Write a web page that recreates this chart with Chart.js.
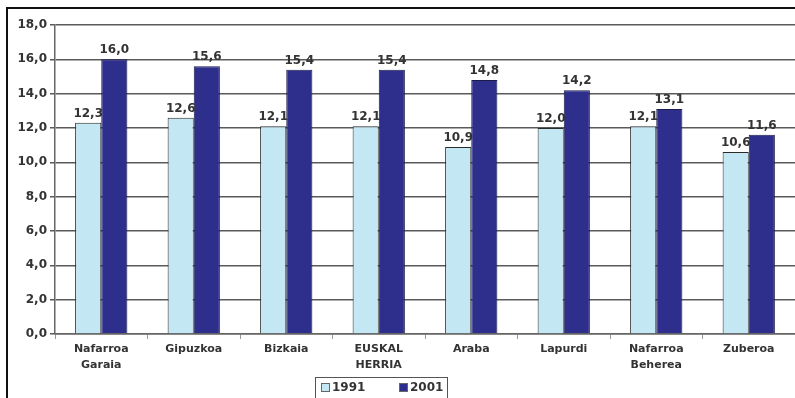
<!DOCTYPE html>
<html>
<head>
<meta charset="utf-8">
<script src="https://cdn.jsdelivr.net/npm/chart.js@4/dist/chart.umd.min.js"></script>
<style>
  html, body { margin: 0; padding: 0; background: #fff; overflow: hidden; }
  #frame { position: absolute; left: 6px; top: 7px; width: 900px; height: 500px;
           border-top: 2px solid #111; border-left: 2px solid #111; }
  #wrap { position: absolute; left: 0; top: 0; width: 795px; height: 398px; }
</style>
</head>
<body>
<div id="frame"></div>
<div id="wrap"><canvas id="chart"></canvas></div>
<script>
var labels = [
  ['Nafarroa', 'Garaia'], 'Gipuzkoa', 'Bizkaia', ['EUSKAL', 'HERRIA'],
  'Araba', 'Lapurdi', ['Nafarroa', 'Beherea'], 'Zuberoa'
];
var values1991 = [12.3, 12.6, 12.1, 12.1, 10.9, 12.0, 12.1, 10.6];
var values2001 = [16.0, 15.6, 15.4, 15.4, 14.8, 14.2, 13.1, 11.6];
var seriesNames = ['1991', '2001'];

var textColor = '#333';
var font = "'DejaVu Sans', Verdana, sans-serif";

function fmt(v) { return v.toFixed(1).replace('.', ','); }

// values above each bar
var barLabels = {
  id: 'barLabels',
  afterDatasetsDraw: function(chart) {
    var c = chart.ctx;
    c.save();
    c.font = 'bold 12px ' + font;
    c.fillStyle = textColor;
    c.textAlign = 'center';
    c.textBaseline = 'alphabetic';
    chart.data.datasets.forEach(function(ds, i) {
      chart.getDatasetMeta(i).data.forEach(function(bar, j) {
        c.fillText(fmt(ds.data[j]), bar.x, bar.y - 6);
      });
    });
    c.restore();
  }
};

// boxed legend under the axis, like the original
var boxLegend = {
  id: 'boxLegend',
  afterDraw: function(chart) {
    var c = chart.ctx;
    var x = 315, y = 377, w = 132, h = 22;
    c.save();
    c.fillStyle = '#fff';
    c.fillRect(x, y, w, h);
    c.strokeStyle = '#555';
    c.lineWidth = 1;
    c.strokeRect(x + 0.5, y + 0.5, w, h);
    c.font = 'bold 12px ' + font;
    c.textBaseline = 'middle';
    c.textAlign = 'left';
    var offs = [6, 84];
    chart.data.datasets.forEach(function(ds, i) {
      var sx = x + offs[i];
      c.fillStyle = ds.backgroundColor;
      c.fillRect(sx, y + 6, 9, 9);
      c.strokeStyle = '#666';
      c.strokeRect(sx + 0.5, y + 6.5, 8, 8);
      c.fillStyle = textColor;
      c.fillText(ds.label, sx + 11, y + 11);
    });
    c.restore();
  }
};

new Chart(document.getElementById('chart'), {
  type: 'bar',
  data: {
    labels: labels,
    datasets: [{
      label: seriesNames[0],
      data: values1991,
      backgroundColor: '#c4e7f4',
      borderColor: '#2a2a2a',
      borderWidth: 1
    }, {
      label: seriesNames[1],
      data: values2001,
      backgroundColor: '#2e2e8c',
      borderColor: '#1c1c4a',
      borderWidth: 1
    }]
  },
  plugins: [barLabels, boxLegend],
  options: {
    responsive: true,
    maintainAspectRatio: false,
    animation: false,
    layout: { padding: { top: 25, right: 0, bottom: 24, left: 0 } },
    datasets: { bar: { categoryPercentage: 0.565, barPercentage: 1.0 } },
    plugins: {
      legend: { display: false },
      tooltip: { enabled: false }
    },
    scales: {
      x: {
        offset: true,
        grid: { display: true, drawOnChartArea: false, drawTicks: true, tickLength: 5,
                offset: true, color: '#999' },
        border: { color: '#666', width: 1.5 },
        ticks: { color: textColor, padding: 2, maxRotation: 0, autoSkip: false,
                 font: { family: font, size: 11, weight: 'bold', lineHeight: 1.45 } },
        afterFit: function(s) { s.height = 40; }
      },
      y: {
        min: 0, max: 18,
        ticks: { stepSize: 2, color: textColor, padding: 3,
                 font: { family: font, size: 12, weight: 'bold' },
                 callback: function(v) { return fmt(v); } },
        grid: { color: '#5a5a5a', lineWidth: 1.5, tickLength: 5 },
        border: { color: '#666', width: 1.5 },
        afterFit: function(s) { s.width = 55; }
      }
    }
  }
});
</script>
</body>
</html>
